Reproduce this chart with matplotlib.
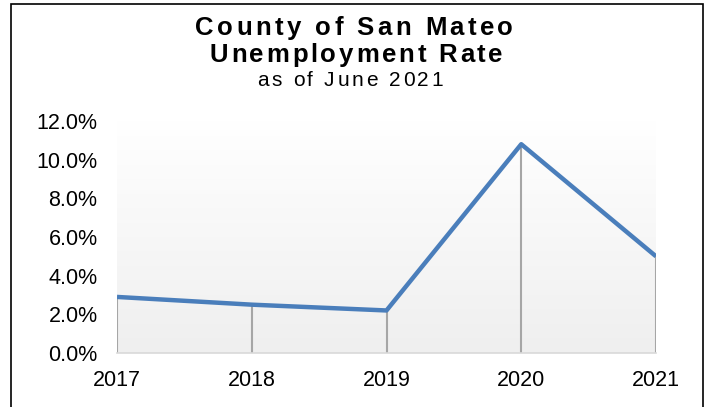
import numpy as np
import matplotlib
matplotlib.use("Agg")
import matplotlib.pyplot as plt
from matplotlib.colors import LinearSegmentedColormap
from matplotlib.patches import Rectangle
from matplotlib.font_manager import FontProperties, findfont, get_font
from matplotlib.ticker import FuncFormatter

years = [2017, 2018, 2019, 2020, 2021]
rates = [0.029, 0.025, 0.022, 0.108, 0.050]
yticks = [0.0, 0.02, 0.04, 0.06, 0.08, 0.10, 0.12]
title_lines = ["County of San Mateo", "Unemployment Rate", "as of June 2021"]

W, H = 709, 407
plt.rcParams['font.family'] = ['Liberation Sans', 'DejaVu Sans']
fig = plt.figure(figsize=(W / 100, H / 100), dpi=100)

# border
fig.patches.append(Rectangle((11 / W, -0.1), (703 - 11) / W, 1.1 - 4 / H,
                             transform=fig.transFigure, fill=False,
                             edgecolor='black', lw=1.2, zorder=0))


def spaced_text(s, cx, base_y, size, weight, target_w):
    prop = FontProperties(family='Liberation Sans', weight=weight, size=size)
    font = get_font(findfont(prop))
    font.set_size(size, 100)
    advs = []
    for ch in s:
        g = font.load_char(ord(ch))
        advs.append(g.linearHoriAdvance / 65536.0)
    natural = sum(advs)
    gap = (target_w - natural) / (len(s) - 1)
    x = cx - target_w / 2
    for ch, a in zip(s, advs):
        if ch != ' ':
            fig.text(x / W, 1 - base_y / H, ch, fontproperties=prop,
                     ha='left', va='baseline')
        x += a + gap


spaced_text(title_lines[0], 354, 35, 18.5, 'bold', 318)
spaced_text(title_lines[1], 356, 62, 18.5, 'bold', 293)
spaced_text(title_lines[2], 350, 86, 15, 'normal', 186)

ax = fig.add_axes([117 / W, 1 - 353 / H, (656 - 117) / W, (353 - 121) / H])
cmap = LinearSegmentedColormap.from_list('g', ['#ffffff', '#efefef'])
ax.imshow(np.linspace(0, 1, 256)[:, None], extent=[2017, 2021, 0, 0.12],
          aspect='auto', cmap=cmap, zorder=0, interpolation='bilinear')

ax.vlines(years, 0, rates, color='#a6a6a6', lw=1.5, zorder=2)
ax.plot(years, rates, color='#4a7ebb', lw=3.2, zorder=3,
        solid_capstyle='butt', solid_joinstyle='round')

ax.set_xlim(2017, 2021)
ax.set_ylim(0, 0.12)
ax.set_xticks(years)
ax.set_xticklabels([str(y) for y in years])
ax.set_yticks(yticks)
ax.yaxis.set_major_formatter(FuncFormatter(lambda v, p: f"{v * 100:.1f}%"))
ax.tick_params(axis='both', length=0, labelsize=15.5, colors='black')
ax.tick_params(axis='y', pad=14)
ax.tick_params(axis='x', pad=12)
for side in ['top', 'left', 'right']:
    ax.spines[side].set_visible(False)
ax.spines['bottom'].set_color('#d9d9d9')
ax.spines['bottom'].set_linewidth(1.2)

fig.savefig('out.png', dpi=100)
